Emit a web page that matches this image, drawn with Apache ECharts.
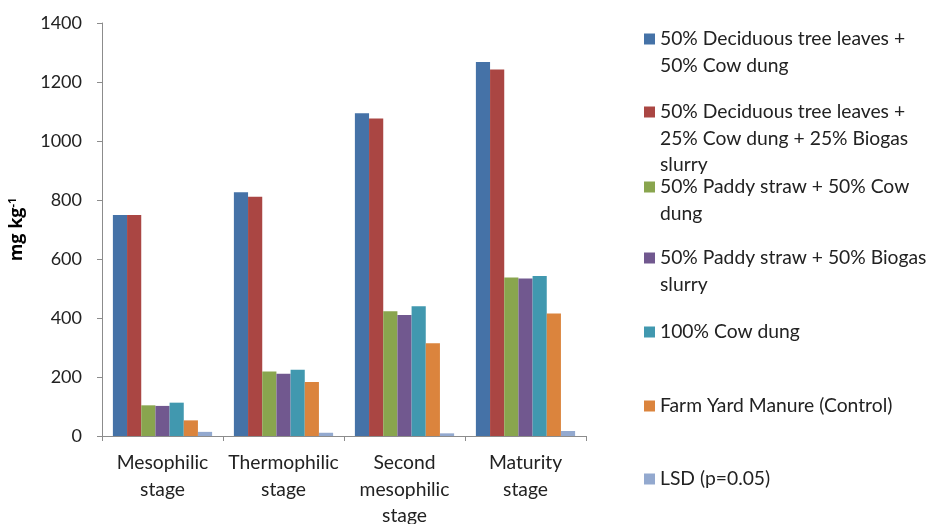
<!DOCTYPE html>
<html>
<head>
<meta charset="utf-8">
<script src="https://cdn.jsdelivr.net/npm/echarts@6/dist/echarts.min.js"></script>
<style>
  html, body { margin: 0; padding: 0; background: #fff; }
  #chart { width: 928px; height: 524px; }
</style>
</head>
<body>
<div id="chart"></div>
<script>
// Composting stages (x axis)
const categories = ['Mesophilic\nstage', 'Thermophilic\nstage', 'Second\nmesophilic\nstage', 'Maturity\nstage'];

// Treatments, each with its wrapped legend text
const seriesNames = [
  '50% Deciduous tree leaves + 50% Cow dung',
  '50% Deciduous tree leaves + 25% Cow dung + 25% Biogas slurry',
  '50% Paddy straw + 50% Cow dung',
  '50% Paddy straw + 50% Biogas slurry',
  '100% Cow dung',
  'Farm Yard Manure (Control)',
  'LSD (p=0.05)'
];
const legendLines = [
  ['50% Deciduous tree leaves +', '50% Cow dung'],
  ['50% Deciduous tree leaves +', '25% Cow dung + 25% Biogas', 'slurry'],
  ['50% Paddy straw + 50% Cow', 'dung'],
  ['50% Paddy straw + 50% Biogas', 'slurry'],
  ['100% Cow dung'],
  ['Farm Yard Manure (Control)'],
  ['LSD (p=0.05)']
];

// Values in mg kg-1, one array per treatment, ordered by stage
const leavesCowDung      = [749, 826, 1094, 1268];
const leavesCowBiogas    = [749, 811, 1076, 1242];
const strawCowDung       = [104, 219, 423, 537];
const strawBiogas        = [102, 211, 410, 534];
const cowDung            = [113, 225, 440, 542];
const farmYardManure     = [53, 183, 314, 415];
const lsd                = [14, 11, 9, 17];

const yTicks = { min: 0, max: 1400, interval: 200 };

const seriesData = [leavesCowDung, leavesCowBiogas, strawCowDung, strawBiogas, cowDung, farmYardManure, lsd];
const colors = ['#4572A7', '#AA4643', '#89A54E', '#71588F', '#4198AF', '#DB843D', '#93A9CF'];

const FONT = 'Lato, "Open Sans", sans-serif';
const TEXT_SIZE = 19.3;
const LINE_H = 26.5;
// vertical centre of the first text line of each legend entry
const legendRowCentres = [39, 112, 187, 258, 332, 406, 479];

// The legend icon sits at the vertical middle of its text block, so blank
// lines are put in front of wrapped entries to keep the icon on the first line.
const legends = seriesNames.map((name, i) => {
  const n = legendLines[i].length;
  const padded = new Array(n - 1).fill('').concat(legendLines[i]);
  return {
    data: [name],
    left: 644,
    top: legendRowCentres[i] - (2 * n - 1) * LINE_H / 2,
    padding: 0,
    itemWidth: 11,
    itemHeight: 11,
    itemGap: 0,
    icon: 'rect',
    selectedMode: false,
    formatter: () => padded.join('\n'),
    textStyle: {
      fontFamily: FONT,
      fontSize: TEXT_SIZE,
      color: '#222',
      lineHeight: LINE_H
    }
  };
});

const chart = echarts.init(document.getElementById('chart'), null, { renderer: 'canvas' });
chart.setOption({
  animation: false,
  color: colors,
  grid: { left: 102, right: 342, top: 23, bottom: 88, containLabel: false, outerBoundsMode: 'none' },
  legend: legends,
  xAxis: {
    type: 'category',
    data: categories,
    boundaryGap: true,
    axisLine: { show: true, lineStyle: { color: '#8c8c8c', width: 1 } },
    axisTick: { show: true, length: 5, interval: 0, lineStyle: { color: '#8c8c8c' } },
    axisLabel: {
      interval: 0,
      margin: 14,
      fontFamily: FONT,
      fontSize: TEXT_SIZE,
      color: '#222',
      lineHeight: LINE_H
    }
  },
  yAxis: {
    type: 'value',
    min: yTicks.min,
    max: yTicks.max,
    interval: yTicks.interval,
    name: '{b|mg kg}{s|-1}',
    nameLocation: 'middle',
    nameGap: 75,
    nameRotate: 90,
    nameTextStyle: {
      rich: {
        b: { fontFamily: '"Open Sans", sans-serif', fontSize: 18, fontWeight: 'bold', color: '#000' },
        s: { fontFamily: '"Open Sans", sans-serif', fontSize: 11, fontWeight: 'bold', color: '#000', verticalAlign: 'top', padding: [0, 0, 9, 0] }
      }
    },
    splitLine: { show: false },
    axisLine: { show: true, lineStyle: { color: '#8c8c8c', width: 1 } },
    axisTick: { show: true, length: 5, lineStyle: { color: '#8c8c8c' } },
    axisLabel: {
      margin: 20,
      fontFamily: FONT,
      fontSize: 18,
      color: '#222',
      formatter: (v) => String(v)
    }
  },
  series: seriesNames.map((name, i) => ({
    name: name,
    type: 'bar',
    data: seriesData[i],
    barGap: '0%',
    barCategoryGap: '18%'
  }))
});
</script>
</body>
</html>
